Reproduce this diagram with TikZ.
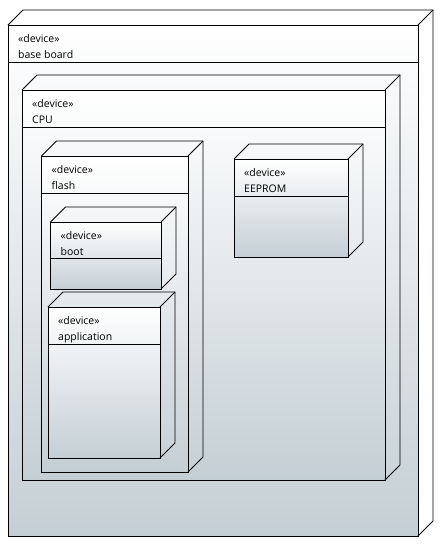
\documentclass[tikz,border=0pt]{standalone}
\usepackage{fontspec}
\setmainfont{Open Sans}
\definecolor{devgrey}{RGB}{196,207,213}
\tikzset{
  frontface/.style={top color=white, bottom color=devgrey, shading angle=0},
  edge/.style={draw=black, line width=0.8pt, line join=miter},
  lbl/.style={inner sep=0pt, anchor=base west, font=\fontsize{10.5}{12}\selectfont}
}
\newcommand\devbox[7]{%
  \shade[frontface] (#2,#3) rectangle (#4,#5);
  \draw[edge] (#2,#3) rectangle (#4,#5);
  \draw[edge] (#2,#3) -- ++(15,-15) -- (#4+15,#3-15) -- (#4+15,#5-15) -- (#4,#5);
  \draw[edge] (#4,#3) -- ++(15,-15);
  \draw[edge] (#2,#6) -- (#4,#6);
  \node[lbl] (#1-st) at (#2+10,#3+17) {«device»};
  \node[lbl] (#1-nm) at (#2+10,#3+33) {#7};
}
\begin{document}
\begin{tikzpicture}[x=1pt,y=-1pt]
\useasboundingbox (0,0) rectangle (442,546);
\devbox{base}{8}{25}{418}{536}{62}{base board}
\devbox{cpu}{22}{90}{385}{480}{127}{CPU}
\devbox{flash}{41.5}{156}{188}{472}{193}{flash}
\devbox{eeprom}{234}{159}{348}{257}{196}{EEPROM}
\devbox{boot}{50.5}{222}{161}{289}{258}{boot}
\devbox{app}{48}{307}{160}{458}{344}{application}
\end{tikzpicture}
\end{document}
